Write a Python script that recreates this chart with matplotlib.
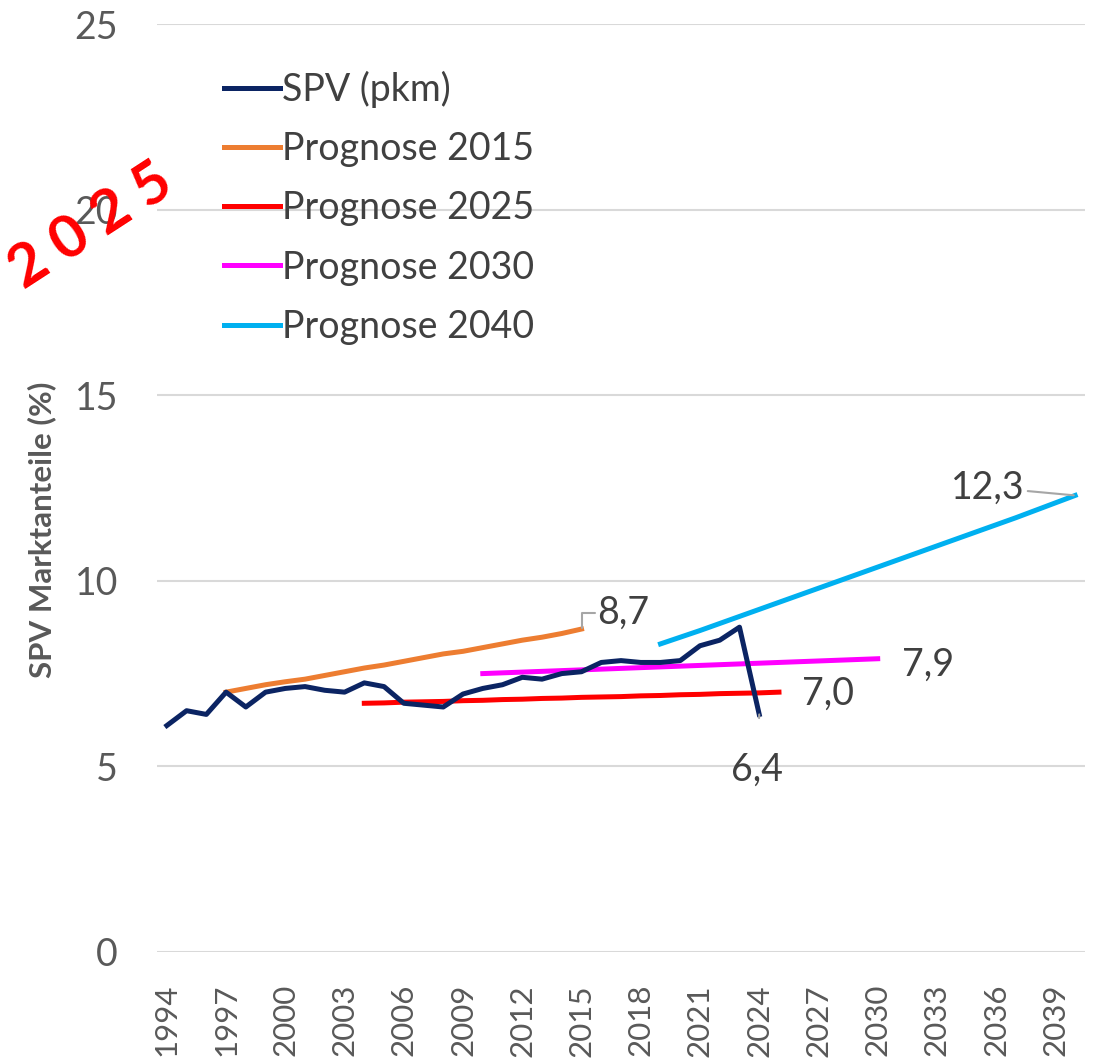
import matplotlib.pyplot as plt
import numpy as np

plt.rcParams['font.family'] = ['Lato', 'DejaVu Sans']

years_spv = list( range( 1994, 2025 ) )
spv = [ 6.1, 6.5, 6.4, 7.0, 6.6, 7.0, 7.1, 7.15, 7.05, 7.0, 7.25, 7.15, 6.7, 6.65, 6.6,
        6.95, 7.1, 7.2, 7.4, 7.35, 7.5, 7.55, 7.8, 7.85, 7.8, 7.8, 7.85, 8.25, 8.4, 8.75, 6.4 ]

years_p2015 = list( range( 1997, 2016 ) )
p2015 = [ 7.0, 7.1, 7.2, 7.28, 7.35, 7.45, 7.55, 7.65, 7.73, 7.83, 7.93, 8.03, 8.1, 8.2,
          8.3, 8.4, 8.48, 8.58, 8.7 ]

years_p2025 = list( range( 2004, 2026 ) )
p2025 = [ 6.7, 6.71, 6.73, 6.74, 6.75, 6.77, 6.78, 6.8, 6.81, 6.83, 6.84, 6.86, 6.87, 6.88,
          6.9, 6.91, 6.93, 6.94, 6.96, 6.97, 6.98, 7.0 ]

years_p2030 = list( range( 2010, 2031 ) )
p2030 = [ 7.5, 7.52, 7.54, 7.56, 7.58, 7.6, 7.62, 7.64, 7.66, 7.68, 7.7, 7.72, 7.74, 7.76,
          7.78, 7.8, 7.82, 7.84, 7.86, 7.88, 7.9 ]

years_p2040 = list( range( 2019, 2041 ) )
p2040 = [ 8.3, 8.48, 8.66, 8.85, 9.04, 9.23, 9.42, 9.61, 9.8, 9.99, 10.18, 10.37, 10.56,
          10.75, 10.94, 11.13, 11.32, 11.51, 11.7, 11.9, 12.1, 12.3 ]

series_names = [ 'SPV (pkm)', 'Prognose 2015', 'Prognose 2025', 'Prognose 2030', 'Prognose 2040' ]
tick_years = list( range( 1994, 2040, 3 ) )

fig = plt.figure( figsize = ( 11, 10.64 ), dpi = 100 )
ax = fig.add_axes( [ 0.1427, 0.1053, 0.8437, 0.8721 ] )

lw = 3.6
ax.plot( years_spv, spv, color = '#0B2463', linewidth = lw, label = series_names[ 0 ], zorder = 3 )
ax.plot( years_p2015, p2015, color = '#ED7D31', linewidth = lw, label = series_names[ 1 ] )
ax.plot( years_p2025, p2025, color = '#FF0000', linewidth = lw, label = series_names[ 2 ] )
ax.plot( years_p2030, p2030, color = '#FF00FF', linewidth = lw, label = series_names[ 3 ] )
ax.plot( years_p2040, p2040, color = '#00B0F0', linewidth = lw, label = series_names[ 4 ] )

ax.set_xlim( 1993.5, 2040.5 )
ax.set_ylim( 0, 25 )
ax.set_yticks( [ 0, 5, 10, 15, 20, 25 ] )
ax.set_xticks( tick_years )
ax.set_xticklabels( [ str( y ) for y in tick_years ], rotation = 90 )
ax.tick_params( length = 0, labelcolor = '#595959' )
ax.tick_params( axis = 'y', pad = 28, labelsize = 27 )
ax.tick_params( axis = 'x', pad = 23, labelsize = 22.5 )
ax.grid( axis = 'y', color = '#D9D9D9', linewidth = 1.5 )
ax.set_axisbelow( True )
for s in ax.spines.values():
    s.set_visible( False )

ax.set_ylabel( 'SPV Marktanteile (%)', fontsize = 22.5, fontweight = 'bold', color = '#595959' )
ax.yaxis.set_label_coords( -0.109, 0.455 )

lbl = dict( fontsize = 27, color = '#404040', ha = 'center', va = 'center', textcoords = 'offset pixels' )
lead = dict( arrowstyle = '-', color = '#A6A6A6', lw = 1.5 )
ax.annotate( '8,7', xy = ( years_p2015[ -1 ], p2015[ -1 ] ), xytext = ( 42, 16 ), **lbl,
             arrowprops = dict( **lead, connectionstyle = 'angle,angleA=0,angleB=90,rad=0',
                                shrinkA = 22, shrinkB = 1 ) )
ax.annotate( '7,0', xy = ( years_p2025[ -1 ], p2025[ -1 ] ), xytext = ( 49, -2 ), **lbl )
ax.annotate( '7,9', xy = ( years_p2030[ -1 ], p2030[ -1 ] ), xytext = ( 50, -6 ), **lbl )
ax.annotate( '6,4', xy = ( years_spv[ -1 ], spv[ -1 ] ), xytext = ( -2, -55 ), **lbl,
             arrowprops = dict( **lead, shrinkA = 22, shrinkB = 7 ) )
ax.annotate( '12,3', xy = ( years_p2040[ -1 ], p2040[ -1 ] ), xytext = ( -87, 8 ), **lbl,
             arrowprops = dict( **lead, shrinkA = 0, shrinkB = 1 ) )

ax.legend( loc = 'upper left', bbox_to_anchor = ( 0.052, 0.97 ), frameon = False, fontsize = 27,
           labelcolor = '#404040', handlelength = 1.5, handletextpad = 0.05, labelspacing = 0.62,
           borderpad = 0 )

fig.text( 0.083, 0.787, '2 0 2 5', rotation = 33, fontsize = 43, fontweight = 'bold',
          color = '#FF0000', ha = 'center', va = 'center' )

plt.savefig( 'out.png', dpi = 100 )
